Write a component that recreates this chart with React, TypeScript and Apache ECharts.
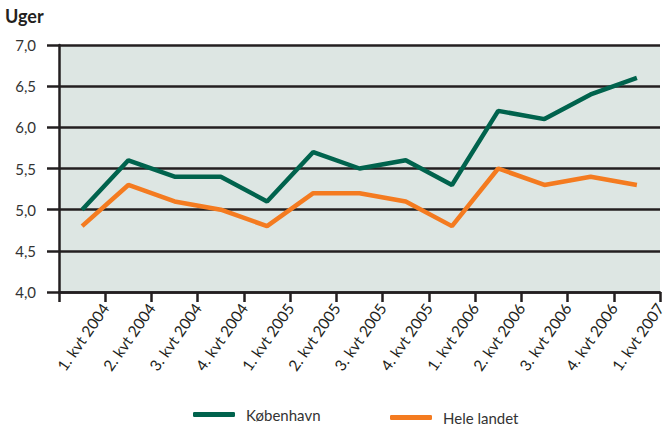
import React, { useEffect, useRef } from "react";
import * as echarts from "echarts";

const categories = [
  "1. kvt 2004", "2. kvt 2004", "3. kvt 2004", "4. kvt 2004",
  "1. kvt 2005", "2. kvt 2005", "3. kvt 2005", "4. kvt 2005",
  "1. kvt 2006", "2. kvt 2006", "3. kvt 2006", "4. kvt 2006",
  "1. kvt 2007",
];
const kobenhavn = [5.0, 5.6, 5.4, 5.4, 5.1, 5.7, 5.5, 5.6, 5.3, 6.2, 6.1, 6.4, 6.6];
const heleLandet = [4.8, 5.3, 5.1, 5.0, 4.8, 5.2, 5.2, 5.1, 4.8, 5.5, 5.3, 5.4, 5.3];

const FONT = "Lato, 'Open Sans', sans-serif";
const GREEN = "#00634d";
const ORANGE = "#f47b20";
const INK = "#231f20";

export default function App() {
  const ref = useRef<HTMLDivElement>(null);
  useEffect(() => {
    if (!ref.current) return;
    const chart = echarts.init(ref.current, undefined, { renderer: "svg" });
    const toPoints = (arr: number[]) => arr.map((v, i) => [i + 0.5, v]);
    chart.setOption({
      animation: false,
      textStyle: { fontFamily: FONT },
      graphic: [
        {
          type: "text",
          left: 5,
          top: 7,
          style: { text: "Uger", font: `bold 18px ${FONT}`, fill: INK },
        },
      ],
      grid: {
        left: 59,
        right: 12,
        top: 45,
        bottom: 135,
        show: true,
        backgroundColor: "#dde6e3",
        borderWidth: 0,
      },
      legend: [
        {
          data: ["København"],
          left: 188,
          top: 402,
          itemWidth: 42,
          itemHeight: 5,
          itemGap: 10,
          icon: "roundRect",
          textStyle: { fontSize: 15, color: "#333", fontFamily: FONT, padding: [0, 0, 0, 6] },
        },
        {
          data: ["Hele landet"],
          left: 385,
          top: 405,
          itemWidth: 42,
          itemHeight: 5,
          itemGap: 10,
          icon: "roundRect",
          textStyle: { fontSize: 15, color: "#333", fontFamily: FONT, padding: [0, 0, 0, 6] },
        },
      ],
      xAxis: {
        type: "value",
        min: 0,
        max: categories.length,
        interval: 1,
        splitLine: { show: false },
        axisLine: { show: true, lineStyle: { color: INK, width: 2.5 } },
        axisTick: { show: true, length: 10, lineStyle: { color: INK, width: 2.5 } },
        axisLabel: {
          rotate: 55,
          margin: 13,
          fontSize: 15.5,
          color: INK,
          fontFamily: FONT,
          showMinLabel: true,
          showMaxLabel: true,
          formatter: (v: number) => (v >= 1 ? categories[Math.round(v) - 1] : ""),
        },
      },
      yAxis: {
        type: "value",
        min: 4,
        max: 7,
        interval: 0.5,
        axisLine: { show: true, lineStyle: { color: INK, width: 2.5 } },
        axisTick: { show: true, length: 12, lineStyle: { color: INK, width: 2.5 } },
        splitLine: { show: true, lineStyle: { color: INK, width: 2.5 } },
        axisLabel: {
          margin: 23,
          fontSize: 15,
          color: "#333",
          fontFamily: FONT,
          formatter: (v: number) => v.toFixed(1).replace(".", ","),
        },
      },
      series: [
        {
          name: "København",
          type: "line",
          data: toPoints(kobenhavn),
          showSymbol: false,
          symbol: "none",
          lineStyle: { color: GREEN, width: 4.5 },
          itemStyle: { color: GREEN },
          z: 3,
        },
        {
          name: "Hele landet",
          type: "line",
          data: toPoints(heleLandet),
          showSymbol: false,
          symbol: "none",
          lineStyle: { color: ORANGE, width: 4.5 },
          itemStyle: { color: ORANGE },
          z: 4,
        },
      ],
    });
    return () => chart.dispose();
  }, []);
  return <div ref={ref} style={{ width: 672, height: 427, position: "absolute", left: 0, top: 0 }} />;
}
